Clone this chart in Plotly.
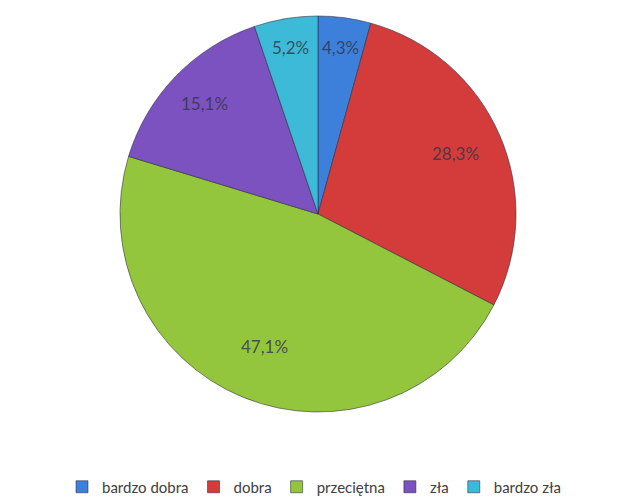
import math
import plotly.graph_objects as go

# Survey answers and their shares (%)
categories = ["bardzo dobra", "dobra", "przeciętna", "zła", "bardzo zła"]
shares = [4.3, 28.3, 47.1, 15.1, 5.2]
colors = ["#3d80dc", "#d43c3c", "#93c63c", "#7b52c0", "#3cbad8"]
# how far from the centre each percentage label sits (fraction of radius)
label_radius = [0.85, 0.76, 0.72, 0.80, 0.85]

W, H = 629, 501
CX, CY, R = 318, 214, 198  # pie centre and radius in pixels

fig = go.Figure(go.Pie(
    labels=categories,
    values=shares,
    sort=False,
    direction="clockwise",
    rotation=0,
    marker=dict(colors=colors, line=dict(color="rgba(40,40,60,0.55)", width=1)),
    textinfo="none",
    hoverinfo="label+percent",
    domain=dict(x=[(CX - R) / W, (CX + R) / W], y=[1 - (CY + R) / H, 1 - (CY - R) / H]),
))

# percentage labels placed at each slice's mid-angle
total = sum(shares)
cum = 0.0
annotations = []
for v, rf in zip(shares, label_radius):
    mid = (cum + v / 2) / total * 2 * math.pi
    cum += v
    px = CX + rf * R * math.sin(mid)
    py = CY - rf * R * math.cos(mid)
    annotations.append(dict(
        x=px / W, y=1 - py / H, xref="paper", yref="paper",
        xanchor="center", yanchor="middle",
        text=f"{v:.1f}%".replace(".", ","), showarrow=False,
        font=dict(family="Lato, Liberation Sans, sans-serif", size=17, color="rgba(50,50,70,0.8)"),
    ))

fig.update_layout(
    width=W, height=H,
    margin=dict(l=0, r=0, t=0, b=0, autoexpand=False),
    paper_bgcolor="white",
    plot_bgcolor="white",
    annotations=annotations,
    showlegend=True,
    legend=dict(
        orientation="h", x=0.5, xanchor="center", y=1 - 487 / H, yanchor="middle",
        font=dict(family="Lato, Liberation Sans, sans-serif", size=15, color="#404040"),
        itemwidth=30, traceorder="normal",
    ),
)

fig.write_html("out.html")
